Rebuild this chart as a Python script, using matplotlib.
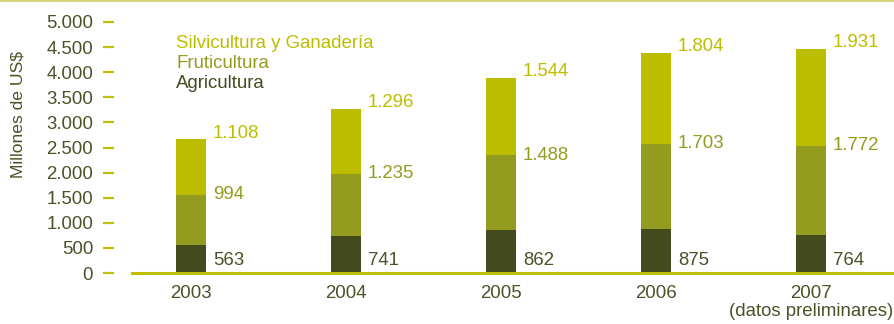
import numpy as np
import matplotlib.pyplot as plt
from matplotlib.lines import Line2D

plt.rcParams['font.family'] = ['Liberation Sans', 'DejaVu Sans']

# datos (millones de US$)
years = ['2003', '2004', '2005', '2006', '2007\n(datos preliminares)']
agricultura = [563, 741, 862, 875, 764]
fruticultura = [994, 1235, 1488, 1703, 1772]
silvicultura = [1108, 1296, 1544, 1804, 1931]
y_ticks = [0, 500, 1000, 1500, 2000, 2500, 3000, 3500, 4000, 4500, 5000]

c_agri = '#434a1e'
c_fruti = '#939c1e'
c_silvi = '#bdbd00'
c_text = '#4a5228'
c_axis = '#c0c000'
fs = 13.4

def fmt(v):
    return f'{v:,}'.replace(',', '.')

fig = plt.figure(figsize=(8.94, 3.24), dpi=100)
ax = fig.add_axes([132 / 894, 1 - 273 / 324, 1 - 132 / 894, 251 / 324])

x = np.arange(len(years))
w = 0.194
agri = np.array(agricultura)
fruti = np.array(fruticultura)
silvi = np.array(silvicultura)

ax.bar(x, agri, w, color=c_agri)
ax.bar(x, fruti, w, bottom=agri, color=c_fruti)
ax.bar(x, silvi, w, bottom=agri + fruti, color=c_silvi)

# etiquetas de valor a la derecha de cada barra
lx = x + w / 2 + 0.045
for i in range(len(x)):
    ax.text(lx[i], 240, fmt(agri[i]), color=c_text, fontsize=fs, va='center')
    ax.text(lx[i], agri[i] + fruti[i], fmt(fruti[i]), color=c_fruti, fontsize=fs, va='center')
    ax.text(lx[i], agri[i] + fruti[i] + silvi[i] + 120, fmt(silvi[i]), color=c_silvi,
            fontsize=fs, va='center')

ax.set_xlim(-0.381, 4.535)
ax.set_ylim(0, 5000)
ax.set_yticks(y_ticks)
ax.set_yticklabels([fmt(v) for v in y_ticks])
ax.set_xticks(x)
ax.set_xticklabels(years, linespacing=1.0)

for s in ['top', 'right']:
    ax.spines[s].set_visible(False)
ax.spines['left'].set_position(('outward', 13))
ax.spines['left'].set_color('none')
ax.spines['bottom'].set_color(c_axis)
ax.spines['bottom'].set_linewidth(2.2)

ax.tick_params(axis='y', length=8, width=1.6, color=c_axis, pad=7,
               labelcolor=c_text, labelsize=fs)
ax.tick_params(axis='x', length=0, pad=9, labelcolor=c_text, labelsize=fs)
ax.set_ylabel('Millones de US$', color=c_text, fontsize=12.6)
ax.yaxis.set_label_coords(-0.14, 0.63)

# leyenda como texto
fig.text(176 / 894, 1 - 47.5 / 324, 'Silvicultura y Ganadería', color=c_silvi, fontsize=fs)
fig.text(176 / 894, 1 - 67.5 / 324, 'Fruticultura', color=c_fruti, fontsize=fs)
fig.text(176 / 894, 1 - 87.5 / 324, 'Agricultura', color=c_agri, fontsize=fs)

# linea superior
fig.add_artist(Line2D([0, 1], [1 - 1 / 324, 1 - 1 / 324], color='#d6d67a', lw=1.5))

fig.savefig('out.png', dpi=100)
